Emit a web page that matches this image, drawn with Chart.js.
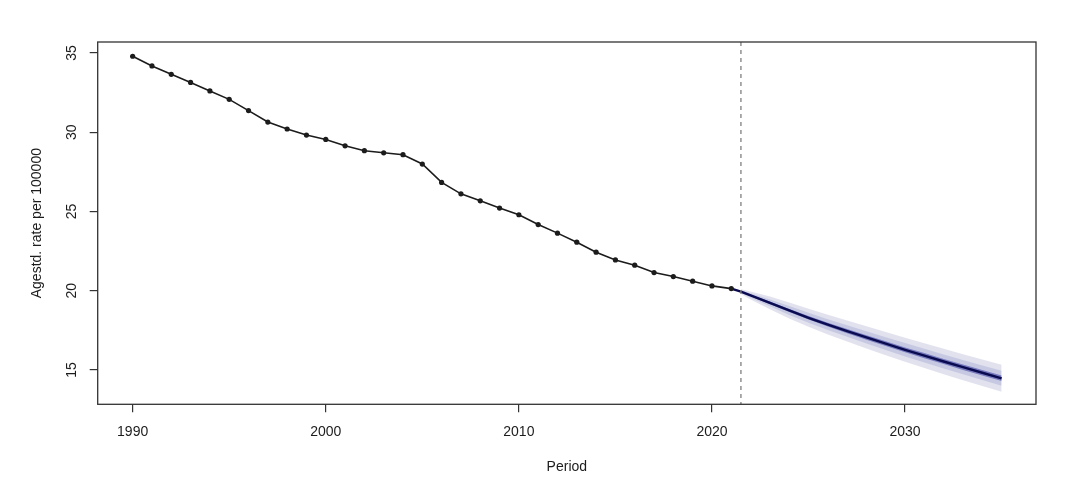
<!DOCTYPE html>
<html>
<head>
<meta charset="utf-8">
<script src="https://cdn.jsdelivr.net/npm/chart.js@4"></script>
<style>
  html, body { margin: 0; padding: 0; background: #fff; }
  #wrap { width: 1080px; height: 490px; position: relative; }
</style>
</head>
<body>
<div id="wrap"><canvas id="chart"></canvas></div>
<script>
// --- data ---
const histYears = [1990, 1991, 1992, 1993, 1994, 1995, 1996, 1997, 1998, 1999,
  2000, 2001, 2002, 2003, 2004, 2005, 2006, 2007, 2008, 2009,
  2010, 2011, 2012, 2013, 2014, 2015, 2016, 2017, 2018, 2019, 2020, 2021];
const histRates = [34.79, 34.18, 33.65, 33.14, 32.6, 32.07, 31.36, 30.64, 30.2, 29.82,
  29.54, 29.14, 28.83, 28.7, 28.58, 27.99, 26.83, 26.11, 25.67, 25.21,
  24.79, 24.17, 23.63, 23.06, 22.43, 21.94, 21.61, 21.14, 20.89, 20.6, 20.3, 20.13];

const forecastYears = [2021.5, 2022, 2023, 2024, 2025, 2026, 2027, 2028, 2029, 2030,
  2031, 2032, 2033, 2034, 2035];
const forecastRates = [19.94, 19.70, 19.23, 18.75, 18.29, 17.86, 17.45, 17.05, 16.66, 16.27,
  15.9, 15.53, 15.17, 14.82, 14.47];
const outerUpper = [20.09, 19.95, 19.63, 19.25, 18.86, 18.48, 18.11, 17.75, 17.39, 17.03,
  16.68, 16.33, 15.99, 15.66, 15.32];
const outerLower = [19.79, 19.45, 18.83, 18.25, 17.72, 17.24, 16.79, 16.35, 15.93, 15.51,
  15.12, 14.73, 14.35, 13.98, 13.62];
const midUpper = [20.02, 19.84, 19.45, 19.03, 18.6, 18.2, 17.81, 17.44, 17.06, 16.69,
  16.33, 15.97, 15.62, 15.28, 14.94];
const midLower = [19.86, 19.56, 19.01, 18.47, 17.98, 17.52, 17.09, 16.66, 16.26, 15.85,
  15.47, 15.09, 14.72, 14.36, 14.0];
const innerUpper = [19.98, 19.76, 19.31, 18.85, 18.4, 17.98, 17.58, 17.19, 16.81, 16.42,
  16.06, 15.69, 15.34, 14.99, 14.64];
const innerLower = [19.9, 19.64, 19.15, 18.65, 18.18, 17.74, 17.32, 16.91, 16.51, 16.12,
  15.74, 15.37, 15.0, 14.65, 14.3];

const splitYear = 2021.5;
const xTicks = [1990, 2000, 2010, 2020, 2030];
const yTicks = [15, 20, 25, 30, 35];
const xTitle = "Period";
const yTitle = "Agestd. rate per 100000";

const pts = (xs, ys) => xs.map((x, i) => ({ x: x, y: ys[i] }));
const FONT = "'Liberation Sans', Arial, sans-serif";
const INK = "#1c1c1c";

// box, dashed split line, rotated y labels and axis titles (R style)
const rStyle = {
  id: "rStyle",
  afterDraw(chart) {
    const { ctx, chartArea: a, scales } = chart;
    ctx.save();
    // dashed line at end of observed period
    const sx = scales.x.getPixelForValue(splitYear);
    ctx.strokeStyle = "#808080";
    ctx.lineWidth = 1.3;
    ctx.setLineDash([4, 4]);
    ctx.beginPath();
    ctx.moveTo(sx, a.top);
    ctx.lineTo(sx, a.bottom);
    ctx.stroke();
    ctx.setLineDash([]);
    // box
    ctx.strokeStyle = "#333";
    ctx.lineWidth = 1.3;
    ctx.strokeRect(a.left, a.top, a.right - a.left, a.bottom - a.top);
    // y tick labels, rotated
    ctx.fillStyle = INK;
    ctx.font = "14px " + FONT;
    ctx.textAlign = "center";
    ctx.textBaseline = "middle";
    scales.y.ticks.forEach(t => {
      ctx.save();
      ctx.translate(a.left - 26, scales.y.getPixelForValue(t.value));
      ctx.rotate(-Math.PI / 2);
      ctx.fillText(String(t.value), 0, 0);
      ctx.restore();
    });
    // y title
    ctx.save();
    ctx.translate(37, (a.top + a.bottom) / 2);
    ctx.rotate(-Math.PI / 2);
    ctx.fillText(yTitle, 0, 0);
    ctx.restore();
    // x title
    ctx.fillText(xTitle, (a.left + a.right) / 2, 467);
    ctx.restore();
  }
};

new Chart(document.getElementById("chart"), {
  type: "line",
  data: {
    datasets: [
      { data: pts(forecastYears, outerUpper), fill: 1, backgroundColor: "rgba(205,207,225,0.6)",
        borderWidth: 0, pointRadius: 0, order: 6 },
      { data: pts(forecastYears, outerLower), fill: false, borderWidth: 0, pointRadius: 0, order: 7 },
      { data: pts(forecastYears, midUpper), fill: 3, backgroundColor: "rgba(150,155,205,0.35)",
        borderWidth: 0, pointRadius: 0, order: 4 },
      { data: pts(forecastYears, midLower), fill: false, borderWidth: 0, pointRadius: 0, order: 5 },
      { data: pts(forecastYears, innerUpper), fill: 5, backgroundColor: "rgba(55,60,160,0.55)",
        borderWidth: 0, pointRadius: 0, order: 2 },
      { data: pts(forecastYears, innerLower), fill: false, borderWidth: 0, pointRadius: 0, order: 3 },
      { data: [{ x: histYears[histYears.length - 1], y: histRates[histRates.length - 1] }]
          .concat(pts(forecastYears, forecastRates)),
        borderColor: "#0a0a50", borderWidth: 2.4, pointRadius: 0, fill: false, order: 1 },
      { data: pts(histYears, histRates), borderColor: INK, borderWidth: 1.6,
        pointRadius: 2.6, pointBackgroundColor: INK, pointBorderWidth: 0, fill: false, order: 0 }
    ]
  },
  options: {
    responsive: true,
    maintainAspectRatio: false,
    animation: false,
    events: [],
    layout: { padding: { top: 42, right: 44, left: 0, bottom: 0 } },
    plugins: { legend: { display: false }, tooltip: { enabled: false } },
    scales: {
      x: {
        type: "linear",
        min: 1988.19,
        max: 2036.78,
        afterBuildTicks: s => { s.ticks = xTicks.map(v => ({ value: v })); },
        afterFit: s => { s.height = 85.7; },
        border: { display: false },
        grid: { drawOnChartArea: false, drawTicks: true, tickLength: 8, color: "#333", lineWidth: 1.2 },
        ticks: { color: INK, font: { family: FONT, size: 14 }, padding: 11, maxRotation: 0,
                 callback: v => String(v) }
      },
      y: {
        type: "linear",
        min: 12.83,
        max: 35.69,
        afterBuildTicks: s => { s.ticks = yTicks.map(v => ({ value: v })); },
        afterFit: s => { s.width = 97.7; },
        border: { display: false },
        grid: { drawOnChartArea: false, drawTicks: true, tickLength: 8, color: "#333", lineWidth: 1.2 },
        ticks: { color: "rgba(0,0,0,0)", font: { family: FONT, size: 14 } }
      }
    }
  },
  plugins: [rStyle]
});
</script>
</body>
</html>
